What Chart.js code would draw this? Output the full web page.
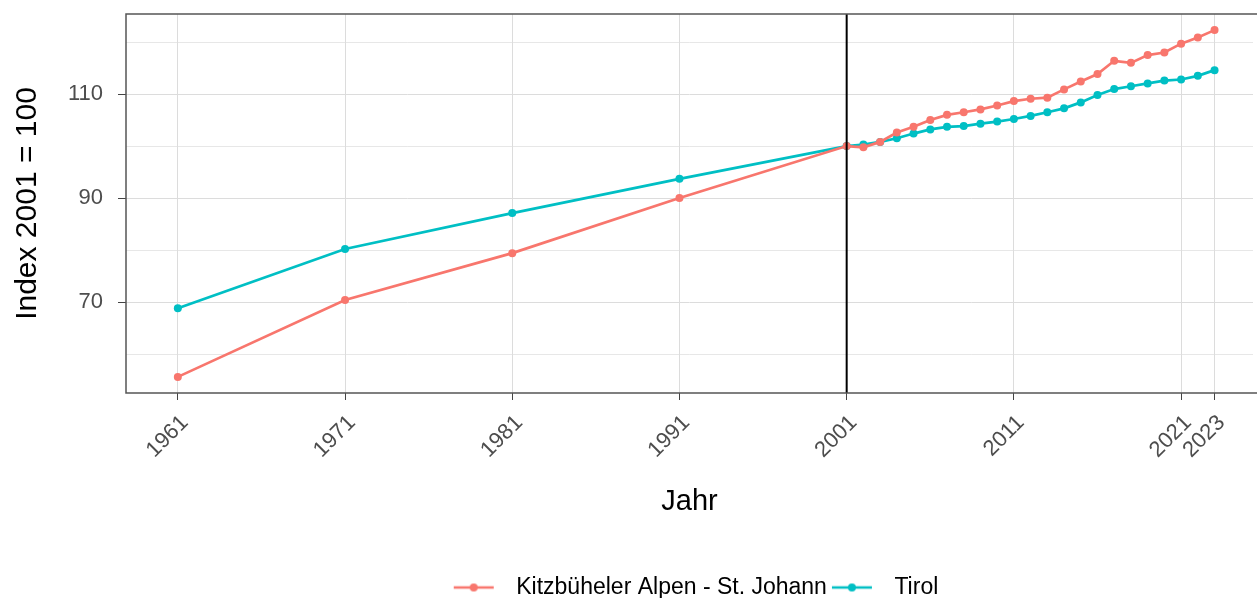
<!DOCTYPE html>
<html>
<head>
<meta charset="utf-8">
<script src="https://cdn.jsdelivr.net/npm/chart.js@4"></script>
<style>
  html, body { margin: 0; padding: 0; background: #fff; }
  #wrap { width: 1257px; height: 598px; }
</style>
</head>
<body>
<div id="wrap"><canvas id="myChart"></canvas></div>
<script>
// values (index 2001 = 100)
const years = [1961, 1971, 1981, 1991, 2001, 2002, 2003, 2004, 2005, 2006, 2007, 2008, 2009, 2010,
  2011, 2012, 2013, 2014, 2015, 2016, 2017, 2018, 2019, 2020, 2021, 2022, 2023];
const kitzbuehel = [55.6, 70.4, 79.4, 90.0, 100, 99.75, 100.8, 102.6, 103.7, 105.0, 106.0, 106.5, 107.05, 107.8,
  108.65, 109.1, 109.3, 110.9, 112.4, 113.85, 116.4, 116.0, 117.5, 118.0, 119.7, 120.9, 122.3];
const tirol = [68.8, 80.2, 87.1, 93.7, 100, 100.3, 100.8, 101.5, 102.4, 103.2, 103.7, 103.85, 104.3, 104.7,
  105.2, 105.8, 106.5, 107.25, 108.4, 109.8, 110.96, 111.5, 112.05, 112.6, 112.8, 113.5, 114.6];
const seriesNames = ['Kitzbüheler Alpen - St. Johann', 'Tirol'];
const xTicks = [1961, 1971, 1981, 1991, 2001, 2011, 2021, 2023];
const yTicks = [60, 70, 80, 90, 100, 110, 120];
const yLabels = [70, 90, 110];
const refYear = 2001;

const red = '#F8766D';
const teal = '#00BFC4';
const font = "'Liberation Sans', Arial, sans-serif";

function legendIcon(color) {
  let c = document.createElement('canvas');
  c.width = 56; c.height = 14;
  let g = c.getContext('2d');
  g.strokeStyle = color;
  g.lineWidth = 2.7;
  g.beginPath(); g.moveTo(5, 7); g.lineTo(45, 7); g.stroke();
  g.fillStyle = color;
  g.beginPath(); g.arc(25, 7, 4, 0, Math.PI * 2); g.fill();
  return c;
}

const toPoints = vals => years.map((y, i) => ({x: y, y: vals[i]}));

// vertical line at 2001, panel border, legend centred on the panel
const extras = {
  id: 'extras',
  afterLayout(chart) {
    let l = chart.legend;
    l.left = chart.chartArea.left + 8;
    l.right = chart.chartArea.right;
    l.width = l.right - l.left;
    l.top = chart.height - l.height + 11;
    l.bottom = l.top + l.height;
  },
  afterDatasetsDraw(chart) {
    let ctx = chart.ctx;
    let a = chart.chartArea;
    let x = chart.scales.x.getPixelForValue(refYear);
    ctx.save();
    ctx.strokeStyle = '#000';
    ctx.lineWidth = 2;
    ctx.beginPath(); ctx.moveTo(x, a.top); ctx.lineTo(x, a.bottom); ctx.stroke();
    ctx.strokeStyle = '#555';
    ctx.lineWidth = 1.5;
    ctx.beginPath();
    ctx.moveTo(chart.width, a.top); ctx.lineTo(a.left, a.top);
    ctx.lineTo(a.left, a.bottom); ctx.lineTo(chart.width, a.bottom);
    ctx.stroke();
    ctx.restore();
  }
};

let ctx = document.getElementById('myChart').getContext('2d');
let myChart = new Chart(ctx, {
  type: 'line',
  data: {
    datasets: [{
      label: seriesNames[0],
      data: toPoints(kitzbuehel),
      borderColor: red,
      backgroundColor: red,
      borderWidth: 2.7,
      pointRadius: 4,
      pointBorderWidth: 0,
      pointStyle: 'circle',
      tension: 0
    }, {
      label: seriesNames[1],
      data: toPoints(tirol),
      borderColor: teal,
      backgroundColor: teal,
      borderWidth: 2.7,
      pointRadius: 4,
      pointBorderWidth: 0,
      pointStyle: 'circle',
      tension: 0
    }]
  },
  options: {
    responsive: true,
    maintainAspectRatio: false,
    animation: false,
    layout: { padding: { top: 0, right: 0, left: 0, bottom: 0 } },
    plugins: {
      tooltip: { enabled: false },
      legend: {
        position: 'bottom',
        labels: {
          usePointStyle: true,
          pointStyleWidth: 56,
          padding: 0,
          color: '#000',
          font: { family: font, size: 23 },
          generateLabels(chart) {
            return chart.data.datasets.map((ds, i) => ({
              text: ds.label,
              pointStyle: legendIcon(ds.borderColor),
              fillStyle: ds.borderColor,
              strokeStyle: ds.borderColor,
              lineWidth: 0,
              hidden: false,
              datasetIndex: i
            }));
          }
        }
      }
    },
    scales: {
      x: {
        type: 'linear',
        min: 1957.9,
        max: 2025.3,
        afterBuildTicks: scale => { scale.ticks = xTicks.map(v => ({value: v})); },
        afterFit: scale => { scale.height = 172; },
        grid: { color: '#dcdcdc', lineWidth: 1, tickColor: '#444', tickLength: 7 },
        border: { display: false },
        ticks: {
          minRotation: 45,
          maxRotation: 45,
          padding: 10,
          labelOffset: 7,
          color: '#4D4D4D',
          font: { family: font, size: 22 },
          callback: v => String(v)
        },
        title: {
          display: true,
          text: 'Jahr',
          color: '#000',
          font: { family: font, size: 29 },
          padding: { top: 0, bottom: 46 }
        }
      },
      y: {
        min: 52.5,
        max: 125.4,
        afterBuildTicks: scale => { scale.ticks = yTicks.map(v => ({value: v})); },
        afterFit: scale => {
          scale.width = 126;
          scale.paddingTop = 14;
          scale.paddingBottom = 0;
        },
        grid: {
          color: '#dcdcdc',
          lineWidth: c => yLabels.includes(c.tick && c.tick.value) ? 1 : 0.7,
          tickColor: c => yLabels.includes(c.tick && c.tick.value) ? '#444' : 'rgba(0,0,0,0)',
          tickLength: 8
        },
        border: { display: false },
        ticks: {
          padding: 15,
          color: '#4D4D4D',
          font: { family: font, size: 22 },
          callback: v => yLabels.includes(v) ? String(v) : ''
        },
        title: {
          display: true,
          text: 'Index 2001 = 100',
          color: '#000',
          font: { family: font, size: 30 },
          padding: { top: 10, bottom: 0 }
        }
      }
    }
  },
  plugins: [extras]
});
</script>
</body>
</html>
